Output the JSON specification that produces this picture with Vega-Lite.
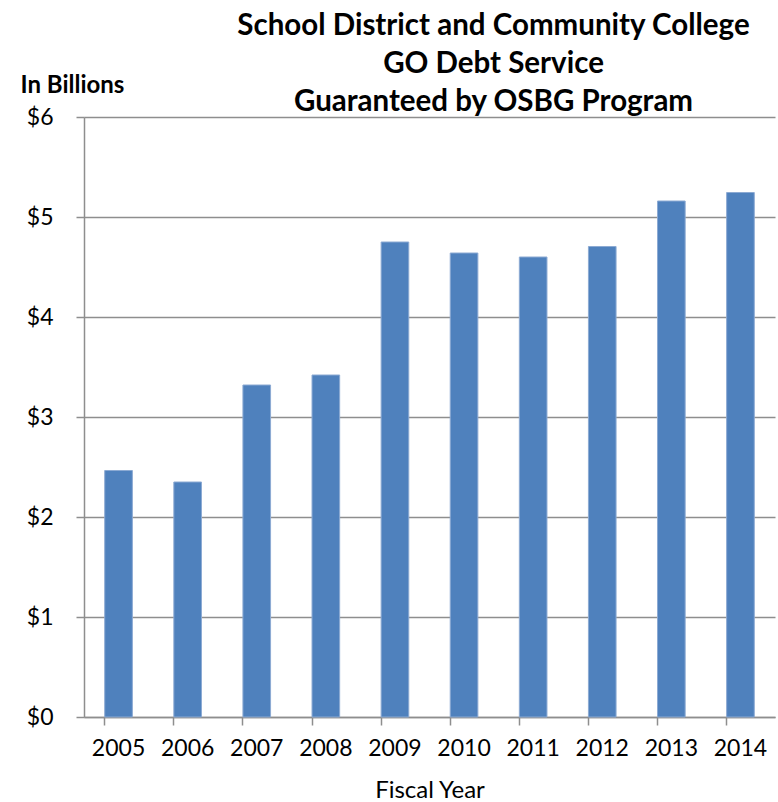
{
  "$schema": "https://vega.github.io/schema/vega-lite/v6.json",
  "width": 691,
  "height": 600,
  "autosize": "none",
  "padding": {"left": 84, "top": 117, "right": 3, "bottom": 85},
  "background": "white",
  "config": {"view": {"stroke": null}, "font": "Lato"},
  "title": {
    "text": ["School District and Community College", "GO  Debt Service", "Guaranteed by OSBG Program"],
    "font": "Lato",
    "fontSize": 29.5,
    "fontWeight": "bold",
    "color": "black",
    "anchor": "middle",
    "dx": 64,
    "lineHeight": 38,
    "offset": -44
  },
  "data": {
    "values": [
      {"year": "2005", "value": 2.465},
      {"year": "2006", "value": 2.35},
      {"year": "2007", "value": 3.32},
      {"year": "2008", "value": 3.42},
      {"year": "2009", "value": 4.75},
      {"year": "2010", "value": 4.64},
      {"year": "2011", "value": 4.6},
      {"year": "2012", "value": 4.705},
      {"year": "2013", "value": 5.16},
      {"year": "2014", "value": 5.245}
    ]
  },
  "mark": {"type": "bar", "color": "#4F81BD", "stroke": "#8CAAD3", "strokeWidth": 1},
  "encoding": {
    "x": {
      "field": "year",
      "type": "ordinal",
      "scale": {"paddingInner": 0.6, "paddingOuter": 0.3},
      "axis": {
        "title": "Fiscal Year",
        "titleFont": "Lato",
        "titleFontSize": 24,
        "titleFontWeight": "normal",
        "titleColor": "black",
        "titlePadding": 18,
        "labelAngle": 0,
        "labelFont": "Lato",
        "labelFontSize": 23,
        "labelColor": "black",
        "labelPadding": 12,
        "bandPosition": 0,
        "ticks": true,
        "tickSize": 8,
        "tickColor": "#8e8e8e",
        "tickWidth": 1.5,
        "domainColor": "#8e8e8e",
        "domainWidth": 1.5
      }
    },
    "y": {
      "field": "value",
      "type": "quantitative",
      "scale": {"domain": [0, 6], "nice": false},
      "axis": {
        "values": [0, 1, 2, 3, 4, 5, 6],
        "format": "$.0f",
        "title": "In Billions",
        "titleAngle": 0,
        "titleFont": "Lato",
        "titleFontSize": 24,
        "titleFontWeight": "bold",
        "titleColor": "black",
        "titleAlign": "left",
        "titleBaseline": "alphabetic",
        "titleX": -64,
        "titleY": -25,
        "labelFont": "Lato",
        "labelFontSize": 23,
        "labelColor": "black",
        "labelPadding": 23,
        "tickSize": 8,
        "tickColor": "#8e8e8e",
        "tickWidth": 1.5,
        "grid": true,
        "gridColor": "#8e8e8e",
        "gridWidth": 1.5,
        "domainColor": "#8e8e8e",
        "domainWidth": 1.5
      }
    }
  }
}
